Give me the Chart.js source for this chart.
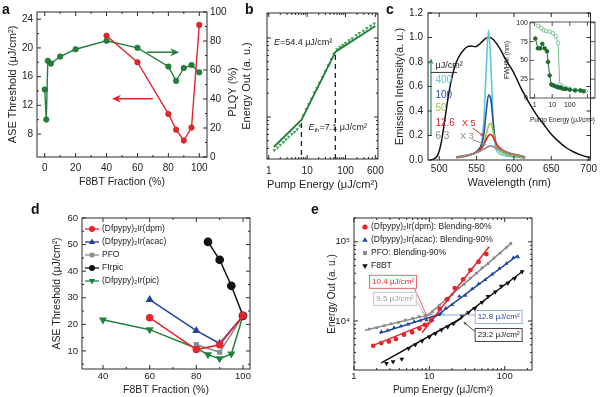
<!DOCTYPE html>
<html>
<head>
<meta charset="utf-8">
<title>ASE figure</title>
<script src="https://cdn.jsdelivr.net/npm/chart.js@4.4.1/dist/chart.umd.min.js"></script>
<style>
  html, body { margin: 0; padding: 0; background: #fff; }
  #fig { position: relative; width: 600px; height: 397px; overflow: hidden; }
  #fig canvas { position: absolute; }
  .tag { position: absolute; font: bold 14px 'Liberation Sans', Arial, sans-serif; line-height: 14px; color: #111; }
</style>
</head>
<body>
<div id="fig">
  <canvas id="chartA" width="245" height="197" style="left:0;top:0"></canvas>
  <canvas id="chartB" width="165" height="197" style="left:225px;top:0"></canvas>
  <canvas id="chartC" width="220" height="197" style="left:380px;top:0"></canvas>
  <canvas id="chartCi" width="98" height="112" style="left:502px;top:14px"></canvas>
  <canvas id="chartD" width="235" height="197" style="left:30px;top:200px"></canvas>
  <canvas id="chartE" width="290" height="197" style="left:310px;top:200px"></canvas>
  <div class="tag" style="left:2px;top:2px">a</div>
  <div class="tag" style="left:245px;top:2px">b</div>
  <div class="tag" style="left:386px;top:2px">c</div>
  <div class="tag" style="left:31px;top:202px">d</div>
  <div class="tag" style="left:311px;top:202px">e</div>
</div>
<script>
// panel a: ASE threshold (left axis) and PLQY (right axis) vs F8BT fraction
const aAseFrac = [40, 60, 80, 85, 90, 95, 100];
const aAse = [21.7, 18.0, 10.8, 8.6, 7.1, 8.9, 23.2];
const aPlqyFrac = [0, 1, 2, 4, 10, 20, 40, 60, 80, 85, 90, 95, 100];
const aPlqy = [46.6, 25.8, 66.4, 64.4, 69.3, 74.3, 80.2, 75.3, 62.4, 52.5, 61.4, 63.4, 58.4];
const aXTicks = [0, 10, 20, 30, 40, 50, 60, 70, 80, 90, 100];
const aXLabels = [0, 20, 40, 60, 80, 100];
const aYTicks = [8, 10, 12, 14, 16, 18, 20, 22, 24];
const aYLabels = [8, 12, 16, 20, 24];
const aY2Ticks = [0, 10, 20, 30, 40, 50, 60, 70, 80, 90, 100];
const aY2Labels = [0, 20, 40, 60, 80, 100];

// panel b: energy out vs pump energy
const bPump = [1.4, 1.7, 2.0, 2.4, 2.8, 3.3, 4.0, 4.7, 5.5, 6.5, 8, 9.5, 11, 13, 15.5, 18, 21, 25, 30, 36, 43, 50,
  60, 72, 85, 100, 125, 150, 190, 230, 290, 360, 450, 560];
const bOut = [380, 410, 445, 480, 520, 560, 610, 650, 700, 780, 1050, 1250, 1450, 1700, 2050, 2300, 2700, 3150, 3800, 4500, 5400, 6300,
  7200, 7700, 8100, 8600, 9300, 9900, 10800, 11500, 12300, 13300, 14200, 15200];
const bFitX = [1.35, 7.1, 54.4, 600];
const bFitY = [417, 917, 6650, 14200];
const bXTicks = [1, 2, 3, 4, 5, 6, 7, 8, 9, 10, 20, 30, 40, 50, 60, 70, 80, 90, 100, 200, 300, 400, 500, 600];
const bXLabels = [1, 10, 100, 600];
const bYTicks = [300, 400, 500, 600, 700, 800, 900, 1000, 2000, 3000, 4000, 5000, 6000, 7000, 8000, 9000, 10000, 20000];

// panel c: emission spectra
const cWave = [488, 493, 498, 503, 508, 513, 518, 523, 528, 533, 538, 543, 548, 553, 558, 563, 568, 573, 578, 583,
  588, 593, 600, 610, 620, 630, 640, 650, 660, 670, 680, 690, 700, 710, 720];
const cPl = [0, 0.01, 0.04, 0.15, 0.35, 0.55, 0.70, 0.80, 0.86, 0.90, 0.925, 0.93, 0.925, 0.94, 0.97, 0.995, 1.0, 0.98, 0.94, 0.89,
  0.83, 0.78, 0.71, 0.58, 0.47, 0.37, 0.29, 0.21, 0.15, 0.10, 0.065, 0.04, 0.022, 0.012, 0.006];
const cAseWave = [523, 535, 545, 552, 557, 560, 563, 566, 569, 572, 575, 579, 585, 592, 600, 608, 615];
const cAse400 = [0.02, 0.03, 0.05, 0.08, 0.15, 0.35, 0.75, 1.06, 0.80, 0.35, 0.12, 0.06, 0.04, 0.03, 0.025, 0.02, 0.015];
const cAse100 = [0.02, 0.03, 0.05, 0.08, 0.13, 0.22, 0.40, 0.53, 0.50, 0.32, 0.16, 0.09, 0.06, 0.045, 0.035, 0.025, 0.02];
const cAse50 = [0.02, 0.03, 0.05, 0.07, 0.10, 0.14, 0.21, 0.28, 0.30, 0.24, 0.15, 0.09, 0.06, 0.045, 0.035, 0.025, 0.02];
const cAse12 = [0.025, 0.035, 0.05, 0.07, 0.10, 0.13, 0.17, 0.20, 0.21, 0.19, 0.15, 0.11, 0.08, 0.06, 0.045, 0.035, 0.025];
const cAse6 = [0.025, 0.035, 0.05, 0.065, 0.08, 0.09, 0.10, 0.11, 0.115, 0.11, 0.10, 0.09, 0.075, 0.06, 0.045, 0.035, 0.025];
const cXTicks = [500, 550, 600, 650, 700];
const cYTicks = [0, 0.2, 0.4, 0.6, 0.8, 1.0, 1.2];
const cPumpLabels = ['400', '100', '50', '12.6', '6.3'];

// panel c inset: FWHM vs pump energy
const ciFilledX = [1.1, 1.55, 2.1, 2.75, 3.7, 5.1, 5.8, 7.2, 9, 11, 14, 18, 22, 28, 35, 45, 60, 100, 200, 400, 600];
const ciFilledY = [79, 66, 66, 72, 66, 62, 48, 30, 18, 17, 16, 15, 14, 14, 13, 12, 12, 11, 10, 10, 9];
const ciOpenX = [1.55, 2.4, 3.3, 4.6, 7.2, 11, 15.8, 21.6, 26.8, 40, 60, 100, 200, 400, 800];
const ciOpenY = [96, 93, 90, 89, 88, 86, 82, 73, 18, 15, 13, 12, 11, 10, 9];
const ciXTicks = [1, 10, 100, 1000];
const ciXLabels = [1, 10, 100];
const ciYTicks = [0, 25, 50, 75, 100];

// panel d: ASE threshold vs F8BT fraction for several blends
const dDpmFrac = [60, 80, 90, 100], dDpm = [22.5, 10.5, 12.3, 23.2];
const dAcacFrac = [60, 80, 90, 100], dAcac = [29.3, 17.6, 12.8, 23.2];
const dPfoFrac = [80, 90, 100], dPfo = [12.4, 9.5, 23.2];
const dFirpicFrac = [85, 90, 95, 100], dFirpic = [51, 44.3, 34.5, 23.2];
const dPicFrac = [40, 60, 80, 85, 90, 95, 100], dPic = [21.7, 18.0, 11.0, 8.6, 7.1, 8.9, 23.2];
const dXTicks = [40, 50, 60, 70, 80, 90, 100];
const dXLabels = [40, 60, 80, 100];
const dYTicks = [5, 10, 15, 20, 25, 30, 35, 40, 45, 50, 55, 60];
const dYLabels = [10, 20, 30, 40, 50, 60];

// panel e: energy out vs pump energy for the blends
const eDpmX = [1.8, 2.3, 2.9, 3.6, 4.6, 5.9, 7.4, 8.7, 10.6, 13.7, 17.3, 21.7, 28, 35, 45, 57];
const eDpmY = [4850, 5250, 5500, 5900, 6700, 7200, 8000, 8900, 10300, 14200, 18800, 26000, 33500, 44000, 56000, 70000];
const eAcacX = [2.3, 2.8, 3.4, 4.2, 5.2, 6.3, 7.6, 9.2, 11, 13.5, 16.5, 20, 25, 30, 37, 45, 55, 68, 85, 105, 130, 150];
const eAcacY = [7300, 7600, 8200, 8600, 9100, 9800, 10100, 10300, 10400, 12000, 14500, 16000, 20500, 21000, 25500, 29500,
  33000, 39000, 46000, 53000, 63000, 64000];
const ePfoX = [1.6, 2.0, 2.5, 3.1, 3.9, 4.8, 6, 7.3, 8.8, 11, 13.5, 16.5, 20, 24, 29, 35, 42, 50, 60, 72, 87, 105, 120];
const ePfoY = [7900, 8200, 8700, 9200, 9600, 10300, 10800, 11400, 11900, 13100, 15800, 18900, 21500, 25800, 29000, 34800,
  40000, 47000, 53000, 62500, 72000, 85000, 95000];
const eF8btX = [2.7, 3.3, 4.3, 5.3, 6.5, 8, 10, 12, 14.5, 17.5, 21, 27, 33, 40, 50, 60, 75, 90, 110, 135, 170];
const eF8btY = [2900, 3050, 3300, 4500, 5000, 5600, 6300, 6900, 7700, 8400, 9300, 11600, 12700, 14400, 17200, 20500,
  23300, 27500, 30000, 34500, 42000];
const eDpmFitLo = [[1.7, 11.5], [4800, 10100]], eDpmFitHi = [[8, 62], [7100, 86500]];
const eAcacFitLo = [[2.2, 15], [7000, 12500]], eAcacFitHi = [[11, 150], [10600, 67800]];
const ePfoFitLo = [[1.4, 11], [7640, 12200]], ePfoFitHi = [[8.5, 125], [10800, 97600]];
const eF8btFitLo = [[2.3, 27], [2950, 10900]], eF8btFitHi = [[20, 175], [9000, 42800]];
const eXTicks = [1, 2, 3, 4, 5, 6, 7, 8, 9, 10, 20, 30, 40, 50, 60, 70, 80, 90, 100, 200];
const eXLabels = [1, 10, 100];
const eYTicks = [3000, 4000, 5000, 6000, 7000, 8000, 9000, 10000, 20000, 30000, 40000, 50000, 60000, 70000, 80000, 90000, 100000, 200000];

const FONT = "'Liberation Sans', Arial, Helvetica, sans-serif";
const AX = '#2b2b2b';
Chart.defaults.font.family = FONT;
Chart.defaults.color = '#222';
Chart.defaults.animation = false;

const pts = (xs, ys) => xs.map((x, i) => ({ x, y: ys[i] }));
const isDecade = v => Math.abs(Math.log10(v) - Math.round(Math.log10(v))) < 1e-9;
const SUP = { '0': '⁰', '1': '¹', '2': '²', '3': '³', '4': '⁴', '5': '⁵', '6': '⁶' };
const pow10 = v => '10' + String(Math.round(Math.log10(v))).split('').map(d => SUP[d]).join('');

function axis(o) {
  const vertical = o.pos === 'left' || o.pos === 'right';
  const fmt = o.fmt || (v => String(v));
  return {
    type: o.type || 'linear',
    position: o.pos,
    min: o.min,
    max: o.max,
    afterBuildTicks: s => { s.ticks = o.ticks.map(v => ({ value: v })); },
    afterFit: s => { if (vertical) s.width = o.size; else s.height = o.size; },
    grid: { display: false, drawTicks: false },
    border: { display: false },
    ticks: {
      display: o.showLabels !== false,
      font: { size: o.tickSize || 10 },
      color: '#222',
      padding: o.tickPad === undefined ? 3 : o.tickPad,
      maxRotation: 0,
      autoSkip: false,
      callback: v => (!o.labels || o.labels.includes(v) ? fmt(v) : '')
    },
    title: o.title
      ? { display: true, text: o.title, color: '#222', font: { size: o.titleSize || 10.5 }, padding: { top: o.titlePad, bottom: o.titlePad } }
      : { display: false }
  };
}

function baseOptions(pad, scales) {
  return {
    responsive: false,
    animation: false,
    events: [],
    layout: { padding: pad },
    plugins: { legend: { display: false }, tooltip: { enabled: false } },
    scales
  };
}

// box round the plot area plus inward tick marks (Origin style)
Chart.register({
  id: 'frame',
  afterDatasetsDraw(chart) {
    const { ctx, chartArea: a } = chart;
    const scales = Object.values(chart.scales);
    const vert = scales.filter(s => !s.isHorizontal());
    ctx.save();
    ctx.strokeStyle = AX;
    ctx.lineWidth = chart.canvas.id === 'chartCi' ? 0.8 : 1;
    ctx.strokeRect(a.left, a.top, a.right - a.left, a.bottom - a.top);
    ctx.beginPath();
    scales.forEach(s => {
      const isLog = s.type === 'logarithmic';
      s.ticks.forEach(t => {
        const p = s.getPixelForValue(t.value);
        const major = (t.label !== '' && t.label != null) || (isLog && isDecade(t.value));
        const len = major ? 4 : 2;
        if (s.isHorizontal()) {
          if (p < a.left - 0.5 || p > a.right + 0.5) return;
          ctx.moveTo(p, a.bottom); ctx.lineTo(p, a.bottom - len);
          ctx.moveTo(p, a.top); ctx.lineTo(p, a.top + len);
        } else {
          if (p < a.top - 0.5 || p > a.bottom + 0.5) return;
          const sides = vert.length > 1 ? [s.position] : ['left', 'right'];
          sides.forEach(side => {
            const x0 = side === 'left' ? a.left : a.right;
            ctx.moveTo(x0, p); ctx.lineTo(side === 'left' ? x0 + len : x0 - len, p);
          });
        }
      });
    });
    ctx.stroke();
    ctx.restore();
  }
});

function arrow(ctx, x1, y1, x2, y2, color, lw, len, half) {
  const ang = Math.atan2(y2 - y1, x2 - x1);
  const c = Math.cos(ang), s = Math.sin(ang);
  const bx = x2 - len * c, by = y2 - len * s;
  const nx = bx + 0.3 * len * c, ny = by + 0.3 * len * s;
  ctx.save();
  ctx.strokeStyle = color;
  ctx.fillStyle = color;
  ctx.lineWidth = lw;
  ctx.beginPath(); ctx.moveTo(x1, y1); ctx.lineTo(nx, ny); ctx.stroke();
  ctx.beginPath();
  ctx.moveTo(x2, y2);
  ctx.lineTo(bx - half * s, by + half * c);
  ctx.lineTo(nx, ny);
  ctx.lineTo(bx + half * s, by - half * c);
  ctx.closePath();
  ctx.fill();
  ctx.restore();
}

function text(ctx, str, x, y, size, color, align, style) {
  ctx.save();
  ctx.font = `${style || ''} ${size}px ${FONT}`;
  ctx.fillStyle = color;
  ctx.textAlign = align || 'left';
  ctx.textBaseline = 'middle';
  ctx.fillText(str, x, y);
  const w = ctx.measureText(str).width;
  ctx.restore();
  return w;
}

function marker(ctx, kind, x, y, r, color) {
  ctx.save();
  ctx.fillStyle = color;
  ctx.beginPath();
  if (kind === 'circle') ctx.arc(x, y, r, 0, 2 * Math.PI);
  else if (kind === 'rect') ctx.rect(x - r, y - r, 2 * r, 2 * r);
  else {
    const d = kind === 'triDown' ? -1 : 1;
    ctx.moveTo(x, y - d * r * 1.2);
    ctx.lineTo(x + r * 1.05, y + d * r * 0.7);
    ctx.lineTo(x - r * 1.05, y + d * r * 0.7);
    ctx.closePath();
  }
  ctx.fill();
  ctx.restore();
}

// ---------- a ----------
const A_GREEN = '#23813d', A_RED = '#e2262c';
new Chart('chartA', {
  type: 'scatter',
  data: {
    datasets: [
      { data: pts(aAseFrac, aAse), yAxisID: 'y', showLine: true, borderColor: A_RED, backgroundColor: A_RED,
        borderWidth: 1.4, pointRadius: 2.8, pointBorderColor: '#b01418', pointBorderWidth: 0.5 },
      { data: pts(aPlqyFrac, aPlqy), yAxisID: 'y2', showLine: true, borderColor: A_GREEN, backgroundColor: A_GREEN,
        borderWidth: 1.4, pointRadius: 2.8, pointBorderColor: '#135f26', pointBorderWidth: 0.5 }
    ]
  },
  options: baseOptions({ top: 12, right: 0, left: 0, bottom: 0 }, {
    x: axis({ pos: 'bottom', min: -5, max: 105, ticks: aXTicks, labels: aXLabels, size: 40, tickPad: 5,
      title: 'F8BT Fraction (%)', titlePad: 8.5 }),
    y: axis({ pos: 'left', min: 4.8, max: 25, ticks: aYTicks, labels: aYLabels, size: 37, tickPad: 4,
      title: 'ASE Threshold (μJ/cm²)', titleSize: 11, titlePad: 5.9 }),
    y2: axis({ pos: 'right', min: 0, max: 100, ticks: aY2Ticks, labels: aY2Labels, size: 38, tickPad: 3 })
  }),
  plugins: [{
    id: 'aNotes',
    afterDraw(c) {
      const { ctx, scales: { x, y } } = c;
      arrow(ctx, x.getPixelForValue(66), y.getPixelForValue(19.4), x.getPixelForValue(87), y.getPixelForValue(19.4), A_GREEN, 1.5, 9, 4);
      arrow(ctx, x.getPixelForValue(70), y.getPixelForValue(12.9), x.getPixelForValue(43.5), y.getPixelForValue(12.9), A_RED, 1.5, 9, 4);
      ctx.save();
      ctx.translate(233, 92);
      ctx.rotate(-Math.PI / 2);
      text(ctx, 'PLQY (%)', 0, 0, 11, '#222', 'center');
      ctx.restore();
    }
  }]
});

// ---------- b ----------
const B_GREEN = '#1f7f3a', B_PT = '#4aa65a';
new Chart('chartB', {
  type: 'scatter',
  data: {
    datasets: [
      { data: pts(bFitX, bFitY), showLine: true, borderColor: B_GREEN, borderWidth: 1.8, pointRadius: 0 },
      { data: pts(bPump, bOut), pointStyle: 'triangle', pointRotation: 180, pointRadius: 2.2,
        backgroundColor: B_PT, borderColor: B_PT, borderWidth: 0 }
    ]
  },
  options: baseOptions({ top: 13, right: 12, left: 0, bottom: 0 }, {
    x: axis({ type: 'logarithmic', pos: 'bottom', min: 0.9, max: 700, ticks: bXTicks, labels: bXLabels, size: 38, tickPad: 6,
      title: 'Pump Energy (μJ/cm²)', titleSize: 11.5, titlePad: 5.5 }),
    y: axis({ type: 'logarithmic', pos: 'left', min: 294, max: 20700, ticks: bYTicks, labels: [], size: 42,
      title: 'Energy Out (a. u.)', titleSize: 11, titlePad: 15 })
  }),
  plugins: [{
    id: 'bNotes',
    afterDraw(c) {
      const { ctx, scales: { x, y } } = c;
      const bottom = c.chartArea.bottom;
      ctx.save();
      ctx.strokeStyle = '#222';
      ctx.lineWidth = 1.3;
      ctx.setLineDash([5, 4]);
      [[7.1, 917], [54.4, 6650]].forEach(([vx, vy]) => {
        ctx.beginPath();
        ctx.moveTo(x.getPixelForValue(vx), y.getPixelForValue(vy) + 3);
        ctx.lineTo(x.getPixelForValue(vx), bottom);
        ctx.stroke();
      });
      ctx.restore();
      // E = 54.4 label, left of the upper knee
      const kx = x.getPixelForValue(54.4), ky = y.getPixelForValue(6650);
      const rest = '=54.4 μJ/cm²';
      ctx.save();
      ctx.font = `9px ${FONT}`;
      const wRest = ctx.measureText(rest).width;
      ctx.restore();
      const x0 = kx - 3 - wRest;
      text(ctx, rest, x0, ky - 9, 9, '#222');
      text(ctx, 'E', x0, ky - 9, 9, '#222', 'right', 'italic');
      // Eth = 7.1 label, right of the lower knee
      let tx = x.getPixelForValue(7.1) + 7;
      const ty = y.getPixelForValue(917) + 8;
      tx += text(ctx, 'E', tx, ty, 9, '#222', 'left', 'italic');
      tx += text(ctx, 'th', tx, ty + 2, 6, '#222');
      text(ctx, '=7.1 μJ/cm²', tx, ty, 9, '#222');
    }
  }]
});

// ---------- c ----------
const C_CYAN = '#5fc8d8', C_BLUE = '#2b4f9e', C_YG = '#9dc63a', C_RED = '#e3262d', C_GRAY = '#8a8a8a', C_ARROW = '#2e8b57';
const spec = (ys, color, w) => ({ data: pts(cAseWave, ys), showLine: true, borderColor: color, borderWidth: w || 1.6,
  pointRadius: 0, cubicInterpolationMode: 'monotone' });
new Chart('chartC', {
  type: 'scatter',
  data: {
    datasets: [
      spec(cAse6, C_GRAY),
      spec(cAse12, C_RED, 1.8),
      spec(cAse50, C_YG),
      spec(cAse100, C_BLUE),
      spec(cAse400, C_CYAN),
      { data: pts(cWave, cPl), showLine: true, borderColor: '#111', borderWidth: 1.5, pointRadius: 0, cubicInterpolationMode: 'monotone' }
    ]
  },
  options: baseOptions({ top: 13, right: 0, left: 0, bottom: 0 }, {
    x: axis({ pos: 'bottom', min: 485, max: 702.5, ticks: cXTicks, size: 37, tickPad: 3,
      title: 'Wavelength (nm)', titleSize: 11, titlePad: 7.4 }),
    y: axis({ pos: 'left', min: 0, max: 1.2, ticks: cYTicks, size: 48, tickPad: 5, fmt: v => v.toFixed(1),
      title: 'Emission Intensity(a. u.)', titleSize: 11, titlePad: 13.4 })
  }),
  plugins: [{
    id: 'cNotes',
    afterDraw(c) {
      const { ctx, scales: { x, y } } = c;
      const X = v => x.getPixelForValue(v), Y = v => y.getPixelForValue(v);
      arrow(ctx, X(489), Y(0.2), X(489), Y(0.83), C_ARROW, 1.2, 6, 2.5);
      ctx.save();
      ctx.strokeStyle = '#333';
      ctx.lineWidth = 1;
      ctx.beginPath(); ctx.moveTo(X(489), Y(0.715)); ctx.lineTo(X(524), Y(0.715)); ctx.stroke();
      ctx.restore();
      text(ctx, 'μJ/cm²', X(495), Y(0.77), 9, '#222');
      const cols = [C_CYAN, C_BLUE, C_YG, C_RED, C_GRAY];
      const ys = [0.65, 0.53, 0.42, 0.30, 0.19];
      cPumpLabels.forEach((s, i) => text(ctx, s, X(495), Y(ys[i]), 10, cols[i]));
      text(ctx, 'X 5', X(530.5), Y(0.30), 9, C_RED);
      arrow(ctx, X(545), Y(0.26), X(559.5), Y(0.195), C_RED, 1, 4, 2);
      text(ctx, 'X 3', X(528), Y(0.19), 9, C_GRAY);
      arrow(ctx, X(545), Y(0.165), X(563), Y(0.122), C_GRAY, 1, 4, 2);
    }
  }]
});

// inset of c
const CI_DARK = '#1d6b31', CI_LIGHT = '#5cb979';
new Chart('chartCi', {
  type: 'scatter',
  data: {
    datasets: [
      { data: pts(ciFilledX, ciFilledY), showLine: true, borderColor: CI_DARK, backgroundColor: CI_DARK,
        borderWidth: 1, pointRadius: 1.8 },
      { data: pts(ciOpenX, ciOpenY), showLine: true, borderColor: CI_LIGHT, backgroundColor: '#fff',
        borderWidth: 0.9, pointRadius: 1.8, pointBorderWidth: 0.8 }
    ]
  },
  options: baseOptions({ top: 8, right: 5, left: 0, bottom: 0 }, {
    x: axis({ type: 'logarithmic', pos: 'bottom', min: 0.55, max: 2700, ticks: ciXTicks, labels: ciXLabels, size: 28,
      tickPad: 3, tickSize: 7, title: 'Pump Energy (μJ/cm²)', titleSize: 7, titlePad: 1.5 }),
    y: axis({ pos: 'left', min: 0, max: 101, ticks: ciYTicks, size: 28, tickPad: 2, tickSize: 7,
      title: 'FWHM (nm)', titleSize: 7, titlePad: 0.5 })
  })
});

// ---------- d ----------
const D_RED = '#e3262d', D_BLUE = '#22439c', D_GRAY = '#8c8c8c', D_BLACK = '#111', D_GREEN = '#23813d';
const dSeries = [
  { label: '(Dfpypy)₂Ir(dpm)', xs: dDpmFrac, ys: dDpm, color: D_RED, kind: 'circle' },
  { label: '(Dfpypy)₂Ir(acac)', xs: dAcacFrac, ys: dAcac, color: D_BLUE, kind: 'tri' },
  { label: 'PFO', xs: dPfoFrac, ys: dPfo, color: D_GRAY, kind: 'rect' },
  { label: 'FIrpic', xs: dFirpicFrac, ys: dFirpic, color: D_BLACK, kind: 'circle' },
  { label: '(Dfpypy)₂Ir(pic)', xs: dPicFrac, ys: dPic, color: D_GREEN, kind: 'triDown' }
];
const chartStyle = { circle: ['circle', 0], tri: ['triangle', 0], rect: ['rect', 0], triDown: ['triangle', 180] };
const markerSize = { circle: 3, tri: 3.2, rect: 2.6, triDown: 3.2 };
new Chart('chartD', {
  type: 'scatter',
  data: {
    datasets: dSeries.map(s => ({
      label: s.label, data: pts(s.xs, s.ys), showLine: true, borderColor: s.color, backgroundColor: s.color,
      borderWidth: 1.5, pointStyle: chartStyle[s.kind][0], pointRotation: chartStyle[s.kind][1],
      pointRadius: s.label === 'FIrpic' ? 3.6 : markerSize[s.kind]
    }))
  },
  options: baseOptions({ top: 18, right: 15, left: 0, bottom: 0 }, {
    x: axis({ pos: 'bottom', min: 31, max: 103, ticks: dXTicks, labels: dXLabels, size: 28, tickPad: 2, tickSize: 9.5,
      title: 'F8BT Fraction (%)', titlePad: 1 }),
    y: axis({ pos: 'left', min: 3.2, max: 60, ticks: dYTicks, labels: dYLabels, size: 52, tickPad: 4, tickSize: 9.5,
      title: 'ASE Threshold (μJ/cm²)', titlePad: 20.7 })
  }),
  plugins: [{
    id: 'dLegend',
    afterDraw(c) {
      const { ctx, chartArea: a } = c;
      dSeries.forEach((s, i) => {
        const yy = a.top + 11 + i * 13;
        ctx.save();
        ctx.strokeStyle = s.color;
        ctx.lineWidth = 1.3;
        ctx.beginPath(); ctx.moveTo(a.left + 3, yy); ctx.lineTo(a.left + 17, yy); ctx.stroke();
        ctx.restore();
        marker(ctx, s.kind, a.left + 10, yy, s.kind === 'rect' ? 2.3 : 3, s.color);
        text(ctx, s.label, a.left + 20, yy, 8.5, '#222');
      });
    }
  }]
});

// ---------- e ----------
const E_RED = '#e3262d', E_BLUE = '#22489e', E_GRAY = '#8a8a8a', E_BLACK = '#111';
const eSeries = [
  { label: '(Dfpypy)₂Ir(dpm): Blending-80%', xs: eDpmX, ys: eDpmY, lo: eDpmFitLo, hi: eDpmFitHi, color: E_RED, kind: 'circle', r: 2.4 },
  { label: '(Dfpypy)₂Ir(acac): Blending-90%', xs: eAcacX, ys: eAcacY, lo: eAcacFitLo, hi: eAcacFitHi, color: E_BLUE, kind: 'tri', r: 2.4 },
  { label: 'PFO: Blending-90%', xs: ePfoX, ys: ePfoY, lo: ePfoFitLo, hi: ePfoFitHi, color: E_GRAY, kind: 'rect', r: 1.9 },
  { label: 'F8BT', xs: eF8btX, ys: eF8btY, lo: eF8btFitLo, hi: eF8btFitHi, color: E_BLACK, kind: 'triDown', r: 2.8 }
];
const eDatasets = [];
eSeries.forEach(s => {
  [s.lo, s.hi].forEach(f => eDatasets.push({ data: pts(f[0], f[1]), showLine: true, borderColor: s.color, borderWidth: 1.5, pointRadius: 0 }));
  eDatasets.push({ data: pts(s.xs, s.ys), pointStyle: chartStyle[s.kind][0], pointRotation: chartStyle[s.kind][1],
    pointRadius: s.r, backgroundColor: s.color, borderColor: s.color, borderWidth: 0 });
});
const eBoxes = [
  { str: '10.4 μJ/cm²', color: E_RED, edge: '#e8646a', at: [3.3, 31200], from: [6.3, 26200], to: [9.4, 11200] },
  { str: '9.5 μJ/cm²', color: '#9a9a9a', edge: '#c4c4c4', at: [3.5, 19000], from: [6.9, 17400], to: [8.6, 11900] },
  { str: '12.8 μJ/cm²', color: E_BLUE, edge: '#8fb0da', at: [83, 11200], from: [41, 11900], to: [14.4, 11900] },
  { str: '23.2 μJ/cm²', color: E_BLACK, edge: '#444', at: [83, 6650], from: [41, 7270], to: [28.2, 9750] }
];
new Chart('chartE', {
  type: 'scatter',
  data: { datasets: eDatasets },
  options: baseOptions({ top: 18, right: 68, left: 0, bottom: 0 }, {
    x: axis({ type: 'logarithmic', pos: 'bottom', min: 1, max: 230, ticks: eXTicks, labels: eXLabels, size: 27, tickPad: 1,
      tickSize: 9.5, title: 'Pump Energy (μJ/cm²)', titleSize: 10, titlePad: 1 }),
    y: axis({ type: 'logarithmic', pos: 'left', min: 2400, max: 200000, ticks: eYTicks, labels: [10000, 100000], fmt: pow10,
      size: 44, tickPad: 4, tickSize: 9.5, title: 'Energy Out (a. u.)', titleSize: 10, titlePad: 16 })
  }),
  plugins: [{
    id: 'eNotes',
    afterDraw(c) {
      const { ctx, chartArea: a, scales: { x, y } } = c;
      eSeries.forEach((s, i) => {
        const yy = a.top + 9 + i * 13;
        marker(ctx, s.kind, a.left + 11, yy, s.kind === 'rect' ? 2 : 2.6, s.color);
        text(ctx, s.label, a.left + 17, yy, 8.5, '#222');
      });
      eBoxes.forEach(b => {
        const fx = x.getPixelForValue(b.from[0]), fy = y.getPixelForValue(b.from[1]);
        const tx = x.getPixelForValue(b.to[0]), ty = y.getPixelForValue(b.to[1]);
        arrow(ctx, fx, fy, tx, ty, b.edge, 1, 4, 1.8);
        const cx = x.getPixelForValue(b.at[0]), cy = y.getPixelForValue(b.at[1]);
        ctx.save();
        ctx.font = `8px ${FONT}`;
        const w = ctx.measureText(b.str).width + 5;
        ctx.fillStyle = '#fff';
        ctx.strokeStyle = b.edge;
        ctx.lineWidth = 1;
        ctx.fillRect(cx - w / 2, cy - 6.5, w, 13);
        ctx.strokeRect(cx - w / 2, cy - 6.5, w, 13);
        ctx.restore();
        text(ctx, b.str, cx, cy, 8, b.color, 'center');
      });
    }
  }]
});
</script>
</body>
</html>
